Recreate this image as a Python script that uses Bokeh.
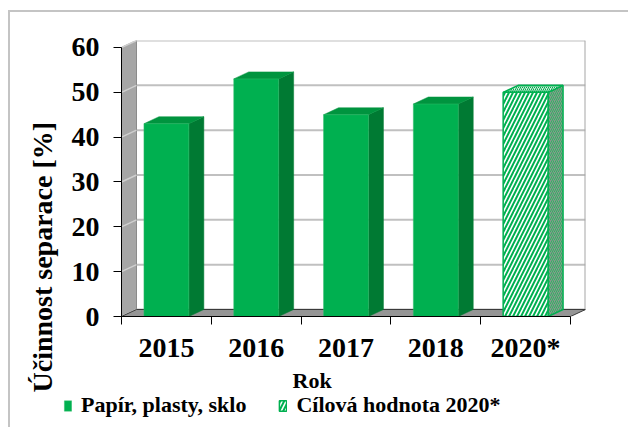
from bokeh.plotting import figure
from bokeh.layouts import column
from bokeh.models import (Range1d, FixedTicker, Legend, LegendItem, Title,
                          ColumnDataSource)
from bokeh.embed import file_html
from bokeh.resources import INLINE

# ---- data ----
years = ["2015", "2016", "2017", "2018", "2020*"]
values = [43.0, 53.0, 45.0, 47.4, 50.0]
is_target = [False, False, False, False, True]
y_ticks = [0, 10, 20, 30, 40, 50, 60]
series_names = ["Papír, plasty, sklo", "Cílová hodnota 2020*"]
x_title = "Rok"
y_title = "Účinnost separace [%]"

# ---- style ----
FONT = "Liberation Serif"
GREEN = "#00B050"
GREEN_TOP = "#00943F"
GREEN_SIDE = "#007A33"
DX = 0.167   # depth offset (category units)
DY = 1.56    # depth offset (value units)
HALF = 0.25  # half bar width
N = len(years)
YMAX = 60

p = figure(width=618, height=381, output_backend="svg", toolbar_location=None,
           x_range=Range1d(0, N + DX), y_range=Range1d(0, YMAX + DY),
           min_border_left=111, min_border_right=43, min_border_top=28,
           min_border_bottom=77)
p.frame_align = False
p.outline_line_color = None
p.xgrid.visible = False
p.ygrid.visible = False
p.background_fill_color = "white"

# back wall gridlines
p.segment(x0=[DX] * len(y_ticks), y0=[t + DY for t in y_ticks],
          x1=[N + DX] * len(y_ticks), y1=[t + DY for t in y_ticks],
          line_color="#C0C0C0", line_width=2)
p.segment(x0=[N + DX], y0=[DY], x1=[N + DX], y1=[YMAX + DY],
          line_color="#A6A6A6", line_width=2)

# left wall
p.patch(x=[0, DX, DX, 0], y=[0, DY, YMAX + DY, YMAX], fill_color="#A6A6A6",
        line_color="#8A8A8A", line_width=1)
p.segment(x0=[0] * len(y_ticks), y0=y_ticks, x1=[DX] * len(y_ticks),
          y1=[t + DY for t in y_ticks], line_color="#CFCFCF", line_width=1.5)

# floor
p.patch(x=[0, N, N + DX, DX], y=[0, 0, DY, DY], fill_color="#959595",
        line_color="#3A3A3A", line_width=1)

# bars
centers = [i + 0.5 for i in range(N)]
src_solid = ColumnDataSource(dict(
    left=[c - HALF for c, t in zip(centers, is_target) if not t],
    right=[c + HALF for c, t in zip(centers, is_target) if not t],
    top=[v for v, t in zip(values, is_target) if not t]))
src_target = ColumnDataSource(dict(
    left=[c - HALF for c, t in zip(centers, is_target) if t],
    right=[c + HALF for c, t in zip(centers, is_target) if t],
    top=[v for v, t in zip(values, is_target) if t]))

def side_faces(sel):
    xs, ys = [], []
    for c, v, t in zip(centers, values, is_target):
        if t != sel:
            continue
        r = c + HALF
        xs.append([r, r + DX, r + DX, r])
        ys.append([0, DY, v + DY, v])
    return xs, ys

def top_faces(sel):
    xs, ys = [], []
    for c, v, t in zip(centers, values, is_target):
        if t != sel:
            continue
        l, r = c - HALF, c + HALF
        xs.append([l, l + DX, r + DX, r])
        ys.append([v, v + DY, v + DY, v])
    return xs, ys

SOLID_STYLE = dict(fill_color=GREEN, line_color="#2FBF6A", line_width=0.5)
TARGET_STYLE = dict(fill_color="white", hatch_pattern="/", hatch_color=GREEN,
                    hatch_scale=8, hatch_weight=2, line_color=GREEN, line_width=1.5)

sx, sy = side_faces(False)
p.patches(xs=sx, ys=sy, fill_color=GREEN_SIDE, line_color=GREEN_SIDE, line_width=0.5)
tx, ty = top_faces(False)
p.patches(xs=tx, ys=ty, fill_color=GREEN_TOP, line_color=GREEN_TOP, line_width=0.5)
p.quad(left="left", right="right", bottom=0, top="top", source=src_solid, **SOLID_STYLE)

sx, sy = side_faces(True)
p.patches(xs=sx, ys=sy, fill_color="#8A968E", hatch_pattern="/",
          hatch_color="#2DB562", hatch_scale=4, hatch_weight=1,
          line_color=GREEN, line_width=1.5)
tx, ty = top_faces(True)
p.patches(xs=tx, ys=ty, fill_color="#CFE9D8", hatch_pattern="/",
          hatch_color=GREEN, hatch_scale=4, hatch_weight=1,
          line_color=GREEN, line_width=1.5)
p.quad(left="left", right="right", bottom=0, top="top", source=src_target, **TARGET_STYLE)

# ---- axes ----
yax = p.yaxis[0]
yax.ticker = FixedTicker(ticks=y_ticks)
yax.bounds = (0, YMAX)
yax.axis_line_color = "black"
yax.major_tick_in = 0
yax.major_tick_out = 8
yax.minor_tick_line_color = None
yax.major_label_standoff = 14
yax.major_label_text_font = FONT
yax.major_label_text_font_style = "bold"
yax.major_label_text_font_size = "28px"
yax.major_label_text_color = "black"

xax = p.xaxis[0]
xax.ticker = FixedTicker(ticks=centers, minor_ticks=list(range(N + 1)))
xax.major_label_overrides = {c: y for c, y in zip(centers, years)}
xax.bounds = (0, N)
xax.axis_line_color = "black"
xax.major_tick_line_color = None
xax.major_tick_in = 0
xax.major_tick_out = 0
xax.minor_tick_in = 0
xax.minor_tick_out = 8
xax.minor_tick_line_color = "black"
xax.major_label_standoff = 7
xax.major_label_text_font = FONT
xax.major_label_text_font_style = "bold"
xax.major_label_text_font_size = "28px"
xax.major_label_text_color = "black"

# axis titles (side-panel titles)
p.add_layout(Title(text=y_title, align="left", offset=-76, standoff=22,
                   text_font=FONT, text_font_style="bold",
                   text_font_size="28px", text_color="black"), "left")
p.add_layout(Title(text=x_title, align="left", offset=171, standoff=0,
                   text_font=FONT, text_font_style="bold",
                   text_font_size="22px", text_color="black"), "below")

# ---- legend strip (proxy renderers kept out of its visible range) ----
q = figure(width=618, height=34, output_backend="svg", toolbar_location=None,
           x_range=Range1d(-10, -9), y_range=Range1d(-10, -9),
           x_axis_location=None, y_axis_location=None, min_border=0)
q.frame_align = False
q.outline_line_color = None
q.xgrid.visible = False
q.ygrid.visible = False
l_solid = q.quad(left="left", right="right", bottom=0, top="top",
                 source=src_solid, **SOLID_STYLE)
l_target = q.quad(left="left", right="right", bottom=0, top="top",
                  source=src_target, **TARGET_STYLE)
legend = Legend(items=[LegendItem(label=series_names[0], renderers=[l_solid]),
                       LegendItem(label=series_names[1], renderers=[l_target])],
                orientation="horizontal", location=(53, 9),
                glyph_width=9, glyph_height=13, label_standoff=9, spacing=32,
                padding=0, margin=0, border_line_color=None,
                background_fill_alpha=0,
                label_text_font=FONT, label_text_font_style="bold",
                label_text_font_size="22px", label_text_color="black")
q.add_layout(legend)

lay = column(p, q, spacing=0)
lay.styles = {"border-left": "2px solid #C4C4C4", "border-top": "2px solid #C4C4C4",
              "margin-top": "10px", "margin-left": "8px"}

open("out.html", "w").write(file_html(lay, INLINE))
